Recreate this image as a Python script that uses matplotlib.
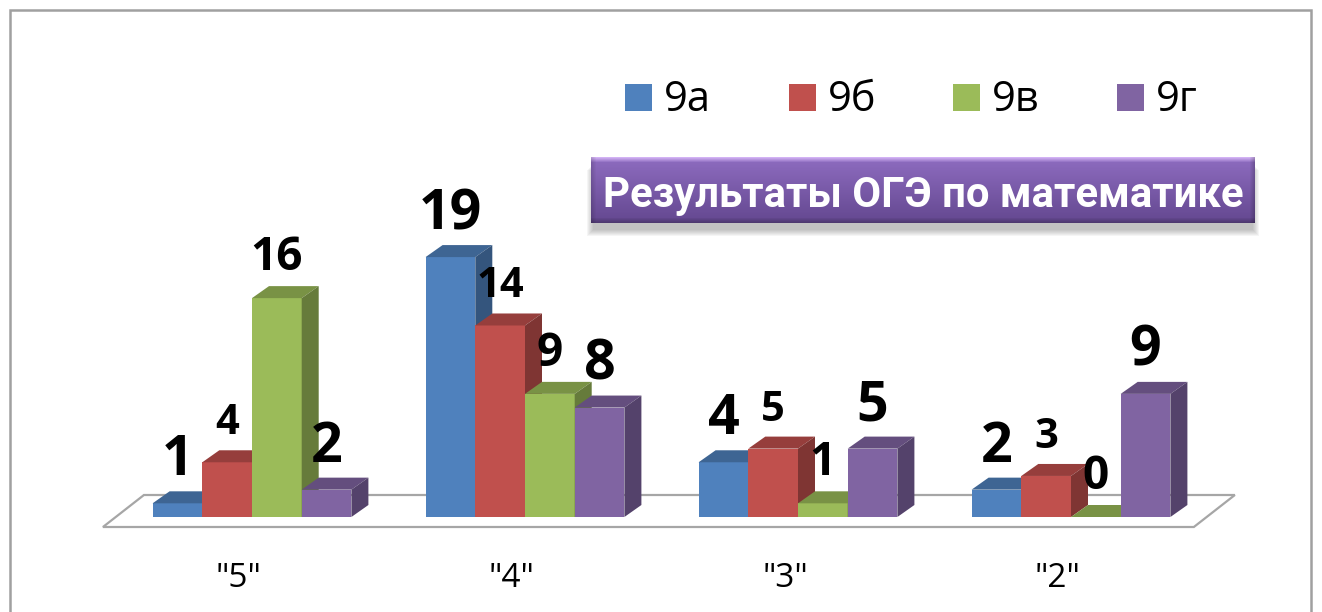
import matplotlib
matplotlib.use("Agg")
import matplotlib.pyplot as plt
import numpy as np
from matplotlib.patches import Polygon, Rectangle
from matplotlib.colors import to_rgb

categories = ['"5"', '"4"', '"3"', '"2"']
classes = ["9а", "9б", "9в", "9г"]
class_9a = [1, 19, 4, 2]
class_9b = [4, 14, 5, 3]
class_9v = [16, 9, 1, 0]
class_9g = [2, 8, 5, 9]
title = "Результаты ОГЭ по математике"

series = [class_9a, class_9b, class_9v, class_9g]
colors = ["#4F81BD", "#C0504D", "#9BBB59", "#8064A2"]
label_sizes = [40, 30, 33, 40]   # value labels were sized by hand on the slide
fonts = ["Open Sans", "DejaVu Sans"]

W, H = 1322, 612
fig = plt.figure(figsize=(W / 100, H / 100), dpi=100)
fig.patch.set_facecolor("white")

# main axes fills the figure, scaled so 1 category = 273 px and 1 unit = 13.68 px
px_x, px_y = 273.0, 13.68
org_x, org_y = 252, 517
ax = fig.add_axes([0, 0, 1, 1])
ax.set_xlim(-org_x / px_x, (W - org_x) / px_x)
ax.set_ylim(-(H - org_y) / px_y, org_y / px_y)
ax.axis("off")
ax.patch.set_alpha(0)

w = 49.7 / px_x          # bar width
dx, dy = 17 / px_x, 12 / px_y   # depth of the bars

# floor
fy0, fy1 = -10 / px_y, 22 / px_y
fx0, fx1 = -0.546, 3.45
fdx = 41 / px_x
ax.add_patch(Polygon([(fx0, fy0), (fx1, fy0), (fx1 + fdx, fy1), (fx0 + fdx, fy1)],
                     closed=True, facecolor="white", edgecolor="#a6a6a6", lw=1.6, zorder=1))

xg = np.arange(len(categories))
for k, vals in enumerate(series):
    xs = xg + (k - 1.5) * w
    c = np.array(to_rgb(colors[k]))
    z = 2 + k
    ax.bar(xs, vals, width=w, color=colors[k], linewidth=0, label=classes[k], zorder=z)
    for x, v in zip(xs, vals):
        l, r = x - w / 2, x + w / 2
        top = [(l, v), (l + dx, v + dy), (r + dx, v + dy), (r, v)]
        side = [(r, 0), (r + dx, dy), (r + dx, v + dy), (r, v)]
        ax.add_patch(Polygon(top, closed=True, facecolor=c * 0.78, lw=0, zorder=z))
        ax.add_patch(Polygon(side, closed=True, facecolor=c * 0.66, lw=0, zorder=z))
        ax.text(x, v + 28 / px_y, str(v), ha="center", va="baseline",
                fontsize=label_sizes[k], fontweight="bold", family=fonts,
                color="black", zorder=20)

for i, cat in enumerate(categories):
    ax.text(i - 0.048, -70 / px_y, cat, ha="center", va="baseline",
            fontsize=24, family=fonts, color="black")

# outer frame
fig.patches.append(Rectangle((10 / W, -0.1), 1301 / W, 1.1 - 10 / H, transform=fig.transFigure,
                             fill=False, edgecolor="#a0a0a0", lw=1.8, zorder=0))

# legend
for k, name in enumerate(classes):
    sx = 625 + 164 * k
    fig.patches.append(Rectangle((sx / W, 1 - 111 / H), 27 / W, 27 / H,
                                 transform=fig.transFigure, facecolor=colors[k], lw=0))
    fig.text((sx + 39) / W, 1 - 111 / H, name, ha="left", va="baseline",
             fontsize=30, family=fonts, color="black")

# title box with shadow
bx0, by0, bx1, by1 = 591, 157, 1255, 223
for i in range(7):
    fig.patches.append(Rectangle(((bx0 - i + 2) / W, 1 - (by1 + 7 + i) / H),
                                 (bx1 - bx0 + 2 * i - 4) / W, (by1 - by0) / H,
                                 transform=fig.transFigure, facecolor="#404040",
                                 alpha=0.05, lw=0, zorder=1))
bax = fig.add_axes([bx0 / W, 1 - by1 / H, (bx1 - bx0) / W, (by1 - by0) / H])
bax.set_zorder(5)
hb, wb = by1 - by0, bx1 - bx0
t = np.linspace(0, 1, hb)[:, None]
base = (1 - t) * np.array(to_rgb("#8e6cc0")) + t * np.array(to_rgb("#644890"))
img = np.repeat(base[:, None, :], wb, axis=1)
light = np.array(to_rgb("#d2b2f4"))
for j in range(5):
    a = 1 - j / 5
    img[j] = img[j] * (1 - a) + light * a
for j in range(5):
    img[-1 - j] *= 0.78 + 0.04 * j
    img[:, j] *= 0.86 + 0.028 * j
    img[:, -1 - j] *= 0.8 + 0.04 * j
bax.imshow(np.clip(img, 0, 1), aspect="auto", extent=(0, 1, 0, 1), interpolation="bilinear")
bax.set_xlim(0, 1)
bax.set_ylim(0, 1)
bax.axis("off")
tt = bax.text(0.5, (by1 - 207) / hb, title, ha="center", va="baseline", color="white",
              fontsize=28, fontweight="bold", family=["Roboto", "DejaVu Sans"])
fig.canvas.draw()
bb = tt.get_window_extent()
tt.set_fontsize(28 * 641 / bb.width)

fig.savefig("out.png", dpi=100, facecolor="white")
